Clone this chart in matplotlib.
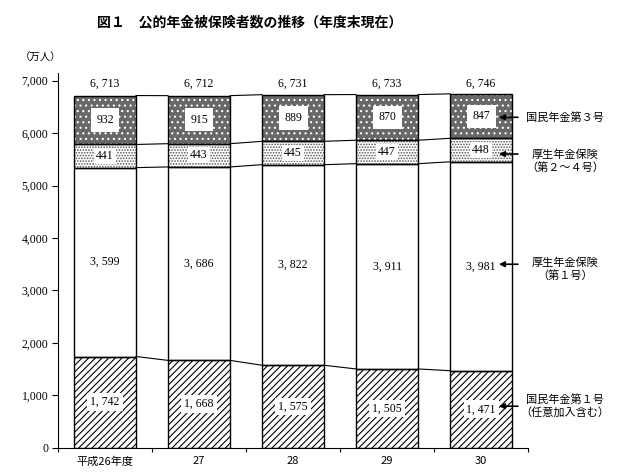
import matplotlib
matplotlib.use("Agg")
import matplotlib.pyplot as plt
import numpy as np

years = ["平成26年度", "27", "28", "29", "30"]
kokumin1 = [1742, 1668, 1575, 1505, 1471]
kosei1 = [3599, 3686, 3822, 3911, 3981]
kosei24 = [441, 443, 445, 447, 448]
kokumin3 = [932, 915, 889, 870, 847]
totals = [6713, 6712, 6731, 6733, 6746]
yticks = [0, 1000, 2000, 3000, 4000, 5000, 6000, 7000]

JP = ["Noto Sans CJK JP", "DejaVu Sans"]
NUM = ["Liberation Serif", "DejaVu Serif"]

plt.rcParams['hatch.linewidth'] = 0.8

fig = plt.figure(figsize=(6.17, 4.75), dpi=100)
ax = fig.add_axes([0.094, 0.057, 0.762, 0.79])

x = np.arange(len(years))
w = 0.66

def fmt(v):
    return f"{v:,}".replace(",", ", ")

b0 = np.zeros(len(x))
b1 = b0 + np.array(kokumin1)
b2 = b1 + np.array(kosei1)
b3 = b2 + np.array(kosei24)
b4 = b3 + np.array(kokumin3)

ax.bar(x, kokumin1, w, bottom=b0, color="white", edgecolor="black", hatch="/////", linewidth=0)
ax.bar(x, kosei1, w, bottom=b1, color="white", linewidth=0)
ax.bar(x, kosei24, w, bottom=b2, color="white", edgecolor="#555555", hatch="......", linewidth=0)
ax.bar(x, kokumin3, w, bottom=b3, color="#686868", edgecolor="white", hatch="...", linewidth=0)
for vals, bot in [(kokumin1, b0), (kosei1, b1), (kosei24, b2), (kokumin3, b3)]:
    ax.bar(x, vals, w, bottom=bot, fill=False, edgecolor="black", linewidth=1.0)

for lev in [b1, b2, b3, b4]:
    for i in range(len(x) - 1):
        ax.plot([x[i] + w / 2, x[i + 1] - w / 2], [lev[i], lev[i + 1]], color="black", lw=0.8)

for i in range(len(x)):
    ax.text(x[i], b0[i] + kokumin1[i] / 2, fmt(kokumin1[i]), ha="center", va="center",
            fontsize=8.5, family=NUM, bbox=dict(facecolor="white", edgecolor="none", pad=2))
    ax.text(x[i], b1[i] + kosei1[i] / 2, fmt(kosei1[i]), ha="center", va="center",
            fontsize=8.5, family=NUM)
    ax.text(x[i], b2[i] + kosei24[i] / 2, fmt(kosei24[i]), ha="center", va="center",
            fontsize=8.5, family=NUM, bbox=dict(facecolor="white", edgecolor="none", pad=1.5))
    ax.text(x[i], b3[i] + kokumin3[i] / 2, fmt(kokumin3[i]), ha="center", va="center",
            fontsize=8.5, family=NUM, bbox=dict(facecolor="white", edgecolor="none", pad=4))
    ax.text(x[i], 6930, fmt(totals[i]), ha="center", va="center", fontsize=8.5, family=NUM)

ax.set_xlim(-0.5, 4.5)
ax.set_ylim(0, 7150)
ax.set_yticks(yticks)
ax.set_yticklabels([f"{v:,}" for v in yticks], family=NUM, fontsize=8.5)
ax.set_xticks(np.arange(-0.5, 5.0, 1.0))
ax.set_xticklabels([])
ax.set_xticks(x, minor=True)
ax.set_xticklabels(years, minor=True, family=JP, fontsize=8)
ax.tick_params(axis="x", which="minor", length=0, pad=6)
ax.tick_params(axis="x", which="major", length=3, direction="out")
ax.tick_params(axis="y", length=4, direction="out", pad=3)
for s in ["top", "right"]:
    ax.spines[s].set_visible(False)

fig.text(0.405, 0.954, "図１　公的年金被保険者数の推移（年度末現在）", ha="center", va="center",
         family=JP, fontsize=10, fontweight="bold")
fig.text(0.066, 0.878, "（万人）", ha="center", va="center", family=JP, fontsize=7.5)

# (label, arrow y value, text y value)
ann = [
    ("国民年金第３号", 6300, 6300),
    ("厚生年金保険\n（第２～４号）", 5600, 5470),
    ("厚生年金保険\n（第１号）", 3500, 3405),
    ("国民年金第１号\n（任意加入含む）", 795, 804),
]
for label, ya, yt in ann:
    ax.annotate("", xy=(4.16, ya), xytext=(4.42, ya),
                arrowprops=dict(arrowstyle="-|>", color="black", lw=1.2, mutation_scale=8),
                annotation_clip=False)
    ax.text(4.89, yt, label, ha="center", va="center", family=JP, fontsize=8,
            linespacing=1.25, clip_on=False)

fig.savefig("out.png", dpi=100)
